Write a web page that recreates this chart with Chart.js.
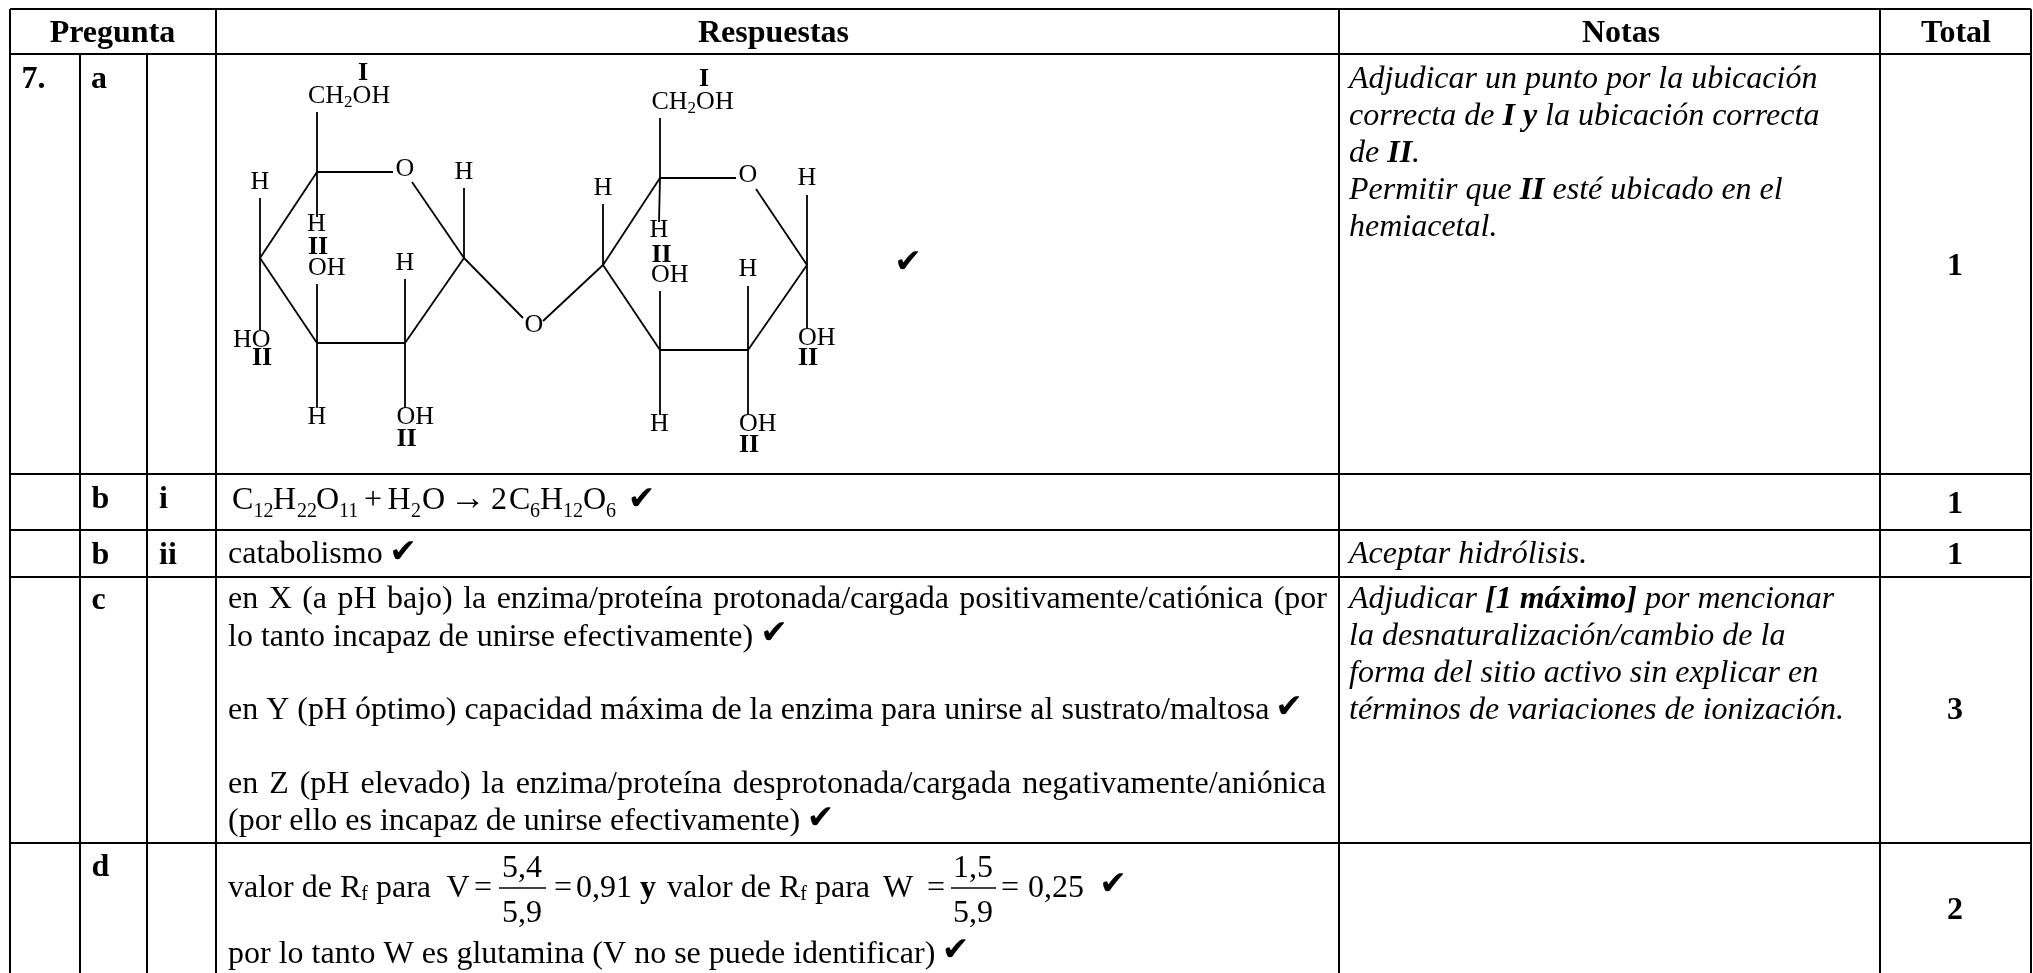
<!DOCTYPE html>
<html>
<head>
<meta charset="utf-8">
<title>Pregunta 7</title>
<script src="https://cdn.jsdelivr.net/npm/chart.js@4"></script>
<style>
  body { margin: 0; background: #fff; }
  canvas { display: block; }
</style>
</head>
<body>
<canvas id="tabla" width="2033" height="973"></canvas>
<script>
// ===== DATA =====
const columnEdges = [10, 80, 147, 216, 1339, 1880, 2031];
const rowEdges = [9, 54, 474, 530, 577, 843];

const headers = ['Pregunta', 'Respuestas', 'Notas', 'Total'];
const questionLabels = ['7.', 'a', 'b', 'i', 'b', 'ii', 'c', 'd'];
const totals = ['1', '1', '1', '3', '2'];

const answerCatabolism = 'catabolismo';
const answerC = [
  'en X (a pH bajo) la enzima/proteína protonada/cargada positivamente/catiónica (por',
  'lo tanto incapaz de unirse efectivamente)',
  'en Y (pH óptimo) capacidad máxima de la enzima para unirse al sustrato/maltosa',
  'en Z (pH elevado) la enzima/proteína desprotonada/cargada negativamente/aniónica',
  '(por ello es incapaz de unirse efectivamente)'
];
const answerDLast = 'por lo tanto W es glutamina (V no se puede identificar)';
const noteHydrolysis = 'Aceptar hidrólisis.';
const noteC = [
  'la desnaturalización/cambio de la',
  'forma del sitio activo sin explicar en',
  'términos de variaciones de ionización.'
];

// enlaces de la molécula: [x1, y1, x2, y2]
const bondsLeft = [
  [317, 172, 393, 172], [412, 182, 464, 258], [464, 258, 405, 343], [405, 343, 317, 343],
  [317, 343, 260, 258], [260, 258, 317, 172], [317, 112, 317, 217], [260, 198, 260, 330],
  [464, 188, 464, 258], [317, 284, 317, 408], [405, 279, 405, 408], [464, 258, 523, 318]
];
const bondsRight = [
  [543, 321, 603, 265], [660, 178, 736, 178], [756, 189, 807, 265], [807, 265, 748, 350],
  [748, 350, 660, 350], [660, 350, 603, 265], [603, 265, 660, 178], [660, 118, 660, 178],
  [660, 178, 659, 222], [603, 204, 603, 265], [807, 195, 807, 328], [660, 291, 660, 415],
  [748, 286, 748, 415]
];

// ===== STYLE =====
const serif = '"Liberation Serif"';
const body = `32px ${serif}`;
const bold = `bold 32px ${serif}`;
const ital = `italic 32px ${serif}`;
const boldItal = `italic bold 32px ${serif}`;
const small = `20px ${serif}`;
const mol = `26px ${serif}`;
const molBold = `bold 26px ${serif}`;
const molSub = `17px ${serif}`;

// cada texto: x, y (línea base), runs [texto, fuente, dy], align, ancho justificado
const t = (x, y, text, font, align) => ({ x, y, runs: [[text, font]], align });
const texts = [
  t(112.5, 42, headers[0], bold, 'center'),
  t(773.5, 42, headers[1], bold, 'center'),
  t(1621, 42, headers[2], bold, 'center'),
  t(1956, 42, headers[3], bold, 'center'),

  t(21.5, 88, questionLabels[0], bold), t(91, 88, questionLabels[1], bold),
  t(91.5, 508, questionLabels[2], bold), t(159, 508, questionLabels[3], bold),
  t(91.5, 564, questionLabels[4], bold), t(159, 564, questionLabels[5], bold),
  t(91.5, 609, questionLabels[6], bold), t(91.5, 876, questionLabels[7], bold),

  t(1955, 275, totals[0], bold, 'center'), t(1955, 513, totals[1], bold, 'center'),
  t(1955, 564, totals[2], bold, 'center'), t(1955, 719, totals[3], bold, 'center'),
  t(1955, 919, totals[4], bold, 'center'),

  // notas
  t(1349, 87.5, 'Adjudicar un punto por la ubicación', ital),
  { x: 1349, y: 125, runs: [['correcta de ', ital], ['I y', boldItal], [' la ubicación correcta', ital]] },
  { x: 1349, y: 162, runs: [['de ', ital], ['II', boldItal], ['.', ital]] },
  { x: 1349, y: 199, runs: [['Permitir que ', ital], ['II', boldItal], [' esté ubicado en el', ital]] },
  t(1349, 236, 'hemiacetal.', ital),
  t(1349, 563, noteHydrolysis, ital),
  { x: 1349, y: 608, runs: [['Adjudicar ', ital], ['[1 máximo]', boldItal], [' por mencionar', ital]] },
  t(1349, 645, noteC[0], ital), t(1349, 682, noteC[1], ital), t(1349, 719, noteC[2], ital),

  // respuestas
  t(228, 563, answerCatabolism, body),
  { x: 228, y: 608, runs: [[answerC[0], body]], justify: 1099 },
  t(228, 646, answerC[1], body),
  t(228, 719, answerC[2], body),
  { x: 228, y: 793, runs: [[answerC[3], body]], justify: 1098 },
  t(228, 830, answerC[4], body),
  t(228, 963, answerDLast, body),

  // ecuación de la fila b i
  t(232, 509, 'C', body), t(253.5, 517, '12', small), t(273, 509, 'H', body), t(297, 517, '22', small),
  t(316, 509, 'O', body), t(339, 517, '11', small), t(364, 509, '+', body), t(387.5, 509, 'H', body),
  t(411, 517, '2', small), t(422, 509, 'O', body), t(450, 509, '→', `36px ${serif}`), t(491, 509, '2', body),
  t(509, 509, 'C', body), t(530, 517, '6', small), t(540, 509, 'H', body), t(563, 517, '12', small),
  t(583, 509, 'O', body), t(606, 517, '6', small),

  // fila d, valores de Rf
  { x: 228, y: 897, runs: [['valor de R', body], ['f', small, 3], [' para', body]] },
  t(446.5, 897, 'V', body), t(474, 897, '=', body),
  t(522, 877, '5,4', body, 'center'), t(522, 922, '5,9', body, 'center'),
  t(554, 897, '=', body), t(576, 897, '0,91', body), t(640, 897, 'y', bold),
  { x: 667, y: 897, runs: [['valor de R', body], ['f', small, 3], [' para', body]] },
  t(883, 897, 'W', body), t(927, 897, '=', body),
  t(973, 877, '1,5', body, 'center'), t(973, 922, '5,9', body, 'center'),
  t(1001, 897, '=', body), t(1028, 897, '0,25', body),

  // molécula izquierda
  t(363, 80, 'I', molBold, 'center'),
  { x: 308, y: 103, runs: [['CH', mol], ['2', molSub, 4], ['OH', mol]] },
  t(405, 176, 'O', mol, 'center'), t(464, 179, 'H', mol, 'center'), t(260, 189, 'H', mol, 'center'),
  t(316.5, 231, 'H', mol, 'center'), t(308, 254, 'II', molBold), t(308, 275, 'OH', mol),
  t(405, 270, 'H', mol, 'center'), t(534, 332, 'O', mol, 'center'), t(233, 347, 'HO', mol),
  t(252, 365, 'II', molBold), t(317, 424, 'H', mol, 'center'), t(396.5, 424, 'OH', mol),
  t(396.5, 446, 'II', molBold),

  // molécula derecha
  t(704, 86, 'I', molBold, 'center'),
  { x: 651.5, y: 109, runs: [['CH', mol], ['2', molSub, 4], ['OH', mol]] },
  t(748, 182, 'O', mol, 'center'), t(807, 185, 'H', mol, 'center'), t(603, 195, 'H', mol, 'center'),
  t(659, 237, 'H', mol, 'center'), t(651.5, 262, 'II', molBold), t(651, 282, 'OH', mol),
  t(748, 276, 'H', mol, 'center'), t(798, 345, 'OH', mol), t(798, 365, 'II', molBold),
  t(659.5, 431, 'H', mol, 'center'), t(739, 431, 'OH', mol), t(739, 452, 'II', molBold)
];

// marcas de verificación: centro x, línea base
const checks = [
  [908, 272], [641.5, 509], [403, 561.5], [774, 643], [1289, 717], [820.5, 827.5], [1113, 894], [955.5, 959.5]
];
const checkFont = '33px "DejaVu Sans"';
checks.forEach(c => texts.push(t(c[0], c[1], '✔', checkFont, 'center')));

// ===== DATASETS =====
const segment = (x1, y1, x2, y2, width) => ({
  data: [{ x: x1, y: y1 }, { x: x2, y: y2 }],
  showLine: true,
  borderColor: '#000',
  borderWidth: width,
  pointRadius: 0
});

const pageBottom = 973;
const gridLeft = columnEdges[0];
const gridRight = columnEdges[columnEdges.length - 1];
const gridLines = [];
rowEdges.forEach(y => gridLines.push(segment(gridLeft, y, gridRight, y, 2)));
columnEdges.forEach((x, i) => {
  // "Pregunta" ocupa tres columnas en el encabezado
  const from = (i === 1 || i === 2) ? rowEdges[1] : rowEdges[0];
  gridLines.push(segment(x, from, x, pageBottom, 2));
});
const bondLines = bondsLeft.concat(bondsRight).map(b => segment(b[0], b[1], b[2], b[3], 1.8));
// raya de las fracciones
const fractionLines = [segment(499, 888, 546, 888, 1.5), segment(951, 888, 996, 888, 1.5)];

// ===== TEXT PLUGIN =====
const textPlugin = {
  id: 'tableText',
  afterDatasetsDraw(chart) {
    const { ctx, scales } = chart;
    ctx.save();
    ctx.fillStyle = '#000';
    ctx.textBaseline = 'alphabetic';
    ctx.textAlign = 'left';
    texts.forEach(item => {
      let total = 0;
      item.runs.forEach(r => {
        ctx.font = r[1];
        ctx.wordSpacing = '0px';
        total += ctx.measureText(r[0]).width;
      });
      let x = scales.x.getPixelForValue(item.x);
      const y = scales.y.getPixelForValue(item.y);
      if (item.align === 'center') x -= total / 2;
      item.runs.forEach(r => {
        ctx.font = r[1];
        if (item.justify) {
          const gaps = r[0].split(' ').length - 1;
          ctx.wordSpacing = ((item.justify - total) / gaps) + 'px';
        } else {
          ctx.wordSpacing = '0px';
        }
        ctx.fillText(r[0], x, y + (r[2] || 0));
        x += ctx.measureText(r[0]).width;
      });
    });
    ctx.restore();
  }
};

// ===== CHART =====
new Chart(document.getElementById('tabla').getContext('2d'), {
  type: 'scatter',
  data: { datasets: gridLines.concat(bondLines, fractionLines) },
  options: {
    responsive: false,
    animation: false,
    events: [],
    layout: { padding: 0 },
    scales: {
      x: { type: 'linear', display: false, min: 0, max: 2033 },
      y: { type: 'linear', display: false, min: 0, max: 973, reverse: true }
    },
    plugins: {
      legend: { display: false },
      tooltip: { enabled: false }
    }
  },
  plugins: [textPlugin]
});
</script>
</body>
</html>
